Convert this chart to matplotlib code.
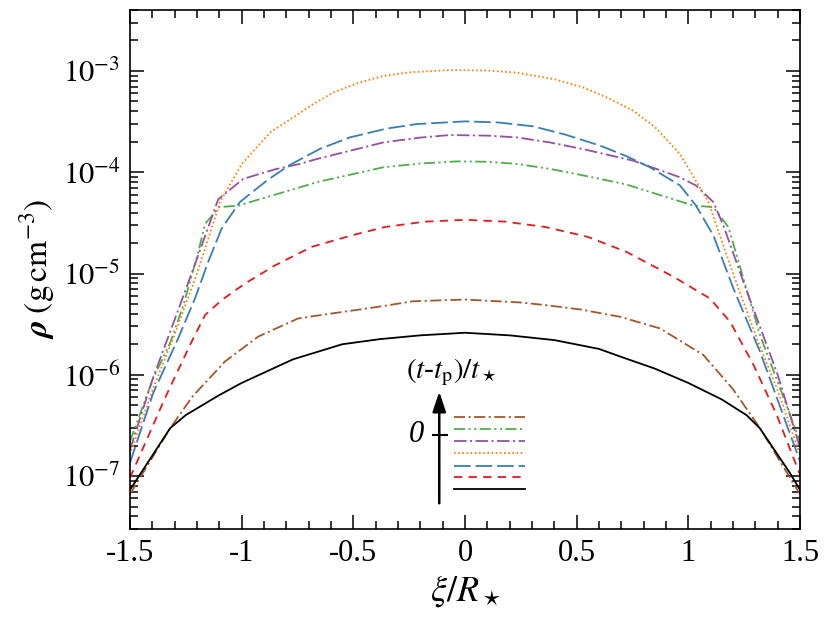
import numpy as np
import matplotlib
matplotlib.use('Agg')
import matplotlib.pyplot as plt
from matplotlib.ticker import MultipleLocator, LogLocator, NullFormatter, FixedLocator, FixedFormatter, FuncFormatter

# density profiles rho(xi), one curve per time
xi_black = [-1.5, -1.32, -1.25, -1.1, -1.0, -0.77, -0.55, -0.38, -0.2, 0.0,
            0.2, 0.4, 0.6, 0.7, 0.85, 1.0, 1.15, 1.26, 1.32, 1.455, 1.5]
rho_black = [7.3e-8, 2.97e-7, 4.0e-7, 6.3e-7, 8.3e-7, 1.42e-6, 2.0e-6, 2.25e-6, 2.45e-6, 2.6e-6,
             2.45e-6, 2.2e-6, 1.8e-6, 1.5e-6, 1.15e-6, 8.3e-7, 5.7e-7, 4.0e-7, 2.97e-7, 1.07e-7, 7.3e-8]

xi_red = [-1.5, -1.343, -1.224, -1.164, -1.09, -0.985, -0.851, -0.687, -0.507, -0.358, -0.18, 0.0,
          0.18, 0.36, 0.55, 0.724, 0.933, 1.097, 1.187, 1.292, 1.396, 1.5]
rho_red = [9.6e-8, 5.9e-7, 2.12e-6, 3.88e-6, 5.45e-6, 7.96e-6, 1.2e-5, 1.83e-5, 2.38e-5, 2.88e-5, 3.25e-5, 3.39e-5,
           3.25e-5, 2.88e-5, 2.3e-5, 1.63e-5, 9.3e-6, 5.66e-6, 3.34e-6, 1.25e-6, 4.0e-7, 1.03e-7]

xi_blue = [-1.5, -1.396, -1.284, -1.209, -1.15, -1.09, -1.008, -0.963, -0.88, -0.784, -0.65, -0.515, -0.35, -0.216, 0.0,
           0.15, 0.306, 0.45, 0.605, 0.72, 0.828, 0.963, 1.034, 1.112, 1.202, 1.321, 1.5]
rho_blue = [1.35e-7, 6.6e-7, 2.29e-6, 5.66e-6, 1.3e-5, 2.77e-5, 5.07e-5, 6.1e-5, 8.5e-5, 1.18e-4, 1.7e-4, 2.21e-4, 2.7e-4, 2.99e-4, 3.18e-4,
            3.1e-4, 2.84e-4, 2.35e-4, 1.83e-4, 1.45e-4, 1.12e-4, 7.4e-5, 4.69e-5, 2.38e-5, 7.1e-6, 1.69e-6, 1.4e-7]

xi_orange = [-1.5, -1.4, -1.3, -1.2, -1.097, -1.0, -0.955, -0.87, -0.769, -0.68, -0.59, -0.48, -0.366, -0.25, -0.067,
             0.1, 0.231, 0.4, 0.53, 0.65, 0.754, 0.85, 0.963, 1.09, 1.2, 1.3, 1.4, 1.5]
rho_orange = [1.63e-7, 7.0e-7, 2.5e-6, 1.0e-5, 5.07e-5, 1.2e-4, 1.55e-4, 2.5e-4, 3.48e-4, 4.7e-4, 6.12e-4, 7.6e-4, 8.93e-4, 9.7e-4, 1.02e-3,
              1.01e-3, 9.64e-4, 8.3e-4, 6.87e-4, 5.3e-4, 4.04e-4, 2.8e-4, 1.51e-4, 5.07e-5, 1.0e-5, 2.5e-6, 7.0e-7, 1.63e-7]

xi_purple = [-1.5, -1.4, -1.3, -1.2, -1.105, -0.993, -0.85, -0.739, -0.664, -0.5, -0.366, -0.2, -0.067,
             0.1, 0.231, 0.38, 0.53, 0.754, 0.963, 1.034, 1.112, 1.157, 1.25, 1.4, 1.5]
rho_purple = [1.82e-7, 8.9e-7, 3.5e-6, 1.4e-5, 5.4e-5, 8.6e-5, 1.07e-4, 1.21e-4, 1.35e-4, 1.66e-4, 1.97e-4, 2.2e-4, 2.33e-4,
              2.3e-4, 2.21e-4, 1.97e-4, 1.69e-4, 1.3e-4, 8.9e-5, 7.4e-5, 5.07e-5, 2.98e-5, 7.9e-6, 1.0e-6, 1.9e-7]

xi_green = [-1.5, -1.396, -1.321, -1.261, -1.194, -1.164, -1.1, -1.01, -0.963, -0.739, -0.664, -0.5, -0.366, -0.2, -0.037,
            0.1, 0.231, 0.38, 0.53, 0.72, 1.022, 1.112, 1.179, 1.321, 1.5]
rho_green = [2.2e-7, 9.2e-7, 2.04e-6, 4.86e-6, 1.63e-5, 3.09e-5, 4.52e-5, 4.69e-5, 5.07e-5, 7.1e-5, 7.98e-5, 9.6e-5, 1.12e-4, 1.22e-4, 1.28e-4,
             1.27e-4, 1.21e-4, 1.08e-4, 9.3e-5, 7.6e-5, 4.69e-5, 4.52e-5, 2.88e-5, 2.47e-6, 2.2e-7]

xi_brown = [-1.5, -1.32, -1.22, -1.075, -0.926, -0.747, -0.627, -0.388, -0.232, 0.0,
            0.246, 0.366, 0.515, 0.694, 0.873, 1.067, 1.2, 1.321, 1.5]
rho_brown = [6.6e-8, 2.97e-7, 6.1e-7, 1.35e-6, 2.38e-6, 3.6e-6, 3.94e-6, 4.69e-6, 5.32e-6, 5.53e-6,
             5.18e-6, 4.86e-6, 4.42e-6, 3.74e-6, 2.87e-6, 1.57e-6, 7.2e-7, 2.97e-7, 6.6e-8]

xtick_vals = [-1.5, -1, -0.5, 0, 0.5, 1, 1.5]
xtick_labels = ['-1.5', '-1', '-0.5', '0', '0.5', '1', '1.5']

plt.rcParams['font.family'] = 'serif'
plt.rcParams['font.serif'] = ['Liberation Serif', 'DejaVu Serif']
plt.rcParams['mathtext.fontset'] = 'stix'
plt.rcParams['lines.scale_dashes'] = False

# curves listed from latest (top of key) to earliest
curves = [
    (xi_brown, rho_brown, '#a65628', (0, (8, 2.5, 1.5, 2.5))),
    (xi_green, rho_green, '#4daf4a', (0, (8, 2.5, 1.5, 2.5, 1.5, 2.5))),
    (xi_purple, rho_purple, '#984ea3', (0, (9, 2.5, 1.5, 2.5))),
    (xi_orange, rho_orange, '#ff7f00', (0, (1.2, 1.8))),
    (xi_blue, rho_blue, '#377eb8', (0, (12, 3.5))),
    (xi_red, rho_red, '#e41a1c', (0, (6, 4.5))),
    (xi_black, rho_black, 'black', '-'),
]

fig = plt.figure(figsize=(8.31, 6.26), dpi=100)
ax = fig.add_axes([0.1564, 0.155, 0.8063, 0.829])

for xs, ys, col, ls in curves:
    ax.plot(xs, ys, color=col, linestyle=ls, lw=1.3)

ax.set_yscale('log')
ax.set_xlim(-1.5, 1.5)
ax.set_ylim(3e-8, 4e-3)

ax.xaxis.set_major_locator(FixedLocator(xtick_vals))
ax.xaxis.set_major_formatter(FixedFormatter(xtick_labels))
ax.xaxis.set_minor_locator(MultipleLocator(0.1))
ax.yaxis.set_major_locator(LogLocator(base=10, numticks=20))
ax.yaxis.set_minor_locator(LogLocator(base=10, subs=np.arange(2, 10), numticks=100))
ax.yaxis.set_minor_formatter(NullFormatter())
ax.yaxis.set_major_formatter(FuncFormatter(lambda v, p: r'$10^{%d}$' % int(round(np.log10(v)))))

ax.tick_params(which='both', direction='in', top=True, right=True, width=1.1, labelsize=22)
ax.tick_params(which='major', length=10, pad=7)
ax.tick_params(which='minor', length=5.5)
for s in ax.spines.values():
    s.set_linewidth(1.2)

ax.set_xlabel(r'$\xi/R_\star$', fontsize=26, labelpad=4)
ax.set_ylabel(r'$\boldsymbol{\rho}\;(\mathrm{g\,cm^{-3}})$', fontsize=24, labelpad=4)

# hand-made key: arrow of time with sample lines
key_y = [0.2152, 0.1921, 0.1701, 0.1464, 0.1220, 0.1002, 0.0765]
for (xs, ys, col, ls), ky in zip(curves, key_y):
    ax.plot([0.4836, 0.5896], [ky, ky], transform=ax.transAxes, color=col, linestyle=ls, lw=1.3)

ax.annotate('', xy=(0.4616, 0.2646), xytext=(0.4616, 0.0495), xycoords='axes fraction',
            arrowprops=dict(arrowstyle='-|>,head_length=0.6,head_width=0.2', lw=1.8, color='black',
                            mutation_scale=20, shrinkA=0, shrinkB=0))
ax.plot([0.4518, 0.4727], [0.1811, 0.1811], transform=ax.transAxes, color='black', lw=1.5)
ax.text(0.428, 0.1811, '0', transform=ax.transAxes, fontsize=22, fontstyle='italic',
        ha='center', va='center')
ax.text(0.480, 0.3025, r'$(t$-$t_{\mathrm{p}})/t_\star$', transform=ax.transAxes, fontsize=21,
        ha='center', va='center')

fig.savefig('out.png', dpi=100)
